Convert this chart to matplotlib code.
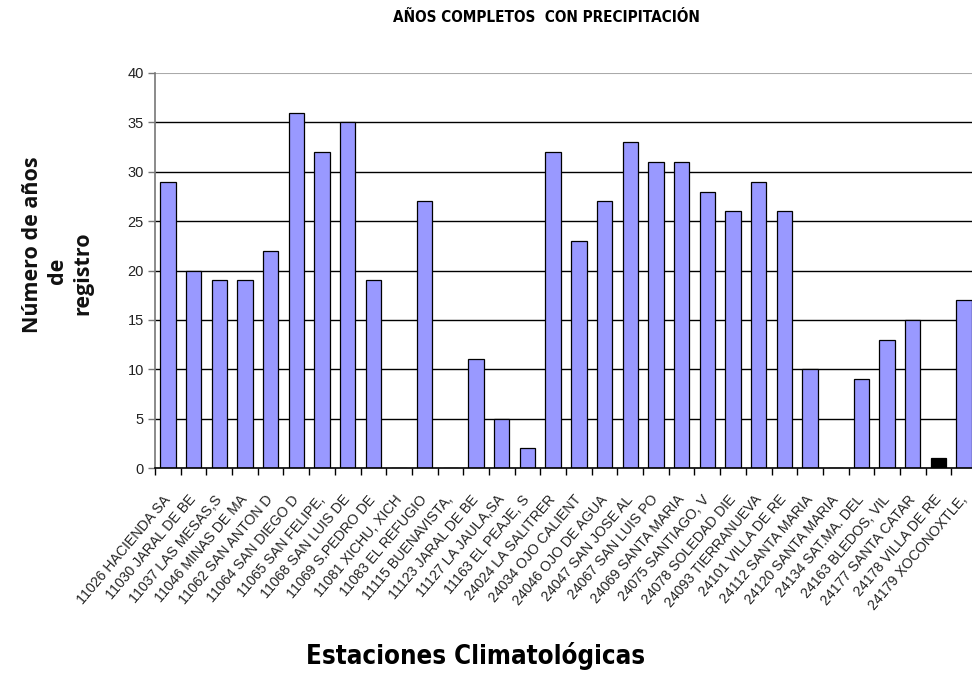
import matplotlib
matplotlib.use("Agg")
import matplotlib.pyplot as plt
import numpy as np

stations = [
    "11026 HACIENDA SA", "11030 JARAL DE BE", "11037 LAS MESAS,S", "11046 MINAS DE MA",
    "11062 SAN ANTON D", "11064 SAN DIEGO D", "11065 SAN FELIPE,", "11068 SAN LUIS DE",
    "11069 S.PEDRO DE", "11081 XICHU, XICH", "11083 EL REFUGIO", "11115 BUENAVISTA,",
    "11123 JARAL DE BE", "11127 LA JAULA,SA", "11163 EL PEAJE, S", "24024 LA SALITRER",
    "24034 OJO CALIENT", "24046 OJO DE AGUA", "24047 SAN JOSE AL", "24067 SAN LUIS PO",
    "24069 SANTA MARIA", "24075 SANTIAGO, V", "24078 SOLEDAD DIE", "24093 TIERRANUEVA",
    "24101 VILLA DE RE", "24112 SANTA MARIA", "24120 SANTA MARIA", "24134 SAT.MA. DEL",
    "24163 BLEDOS, VIL", "24177 SANTA CATAR", "24178 VILLA DE RE", "24179 XOCONOXTLE,",
]
years = [29, 20, 19, 19, 22, 36, 32, 35, 19, 0, 27, 0, 11, 5, 2, 32,
         23, 27, 33, 31, 31, 28, 26, 29, 26, 10, 0, 9, 13, 15, 1, 17]
highlight = "24178 VILLA DE RE"
yticks = [0, 5, 10, 15, 20, 25, 30, 35, 40]

fig = plt.figure(figsize=(9.72, 6.77), dpi=100)
ax = fig.add_axes([155/972, 1-468/677, 822/972, 395/677])

x = np.arange(len(stations))
colors = ["black" if s == highlight else "#9999FF" for s in stations]
ax.bar(x, years, width=0.6, color=colors, edgecolor="black", linewidth=0.9, zorder=3)

ax.set_xlim(-0.5, len(stations) - 0.5)
ax.set_ylim(0, 40)
ax.set_yticks(yticks)
ax.set_yticklabels([str(v) for v in yticks], fontsize=10.5, family="Liberation Sans", color="#222222")
for v in yticks[1:-1]:
    ax.axhline(v, color="black", linewidth=1.0, zorder=1)
ax.axhline(40, color="#aaaaaa", linewidth=1.5, zorder=1)

for s in ["top", "right"]:
    ax.spines[s].set_visible(False)
ax.spines["left"].set_color("#777777")
ax.spines["left"].set_linewidth(1.2)
ax.spines["bottom"].set_color("black")
ax.spines["bottom"].set_linewidth(1.2)
ax.spines["bottom"].set_zorder(4)

ax.set_xticks(x)
ax.set_xticklabels(stations, rotation=50, ha="right", va="center", rotation_mode="anchor",
                   fontsize=10.2, family="Liberation Sans", color="#222222")
ax.tick_params(axis="x", which="major", length=0, pad=21)
ax.set_xticks(np.arange(len(stations) + 1) - 0.5, minor=True)
ax.tick_params(axis="x", which="minor", length=5, width=1, color="black", direction="out")
ax.tick_params(axis="y", length=5, width=1, color="#777777", pad=3)

fig.text(546/972, 1-18/677, "AÑOS COMPLETOS  CON PRECIPITACIÓN", ha="center", va="center",
         fontsize=11, fontweight="bold", family="DejaVu Sans", fontstretch="condensed")
fig.text(476/972, 1-656/677, "Estaciones Climatológicas", ha="center", va="center",
         fontsize=18.5, fontweight="bold", family="DejaVu Sans", fontstretch="condensed")

ylab_kw = dict(ha="center", va="center", rotation=90, fontsize=15.5, fontweight="bold",
               family=["Open Sans", "DejaVu Sans"], color="#111111")
fig.text(33/972, 1-245/677, "Número de años", **ylab_kw)
fig.text(57/972, 1-271/677, "de", **ylab_kw)
fig.text(83/972, 1-273/677, "registro", **ylab_kw)

fig.savefig("out.png", dpi=100)
